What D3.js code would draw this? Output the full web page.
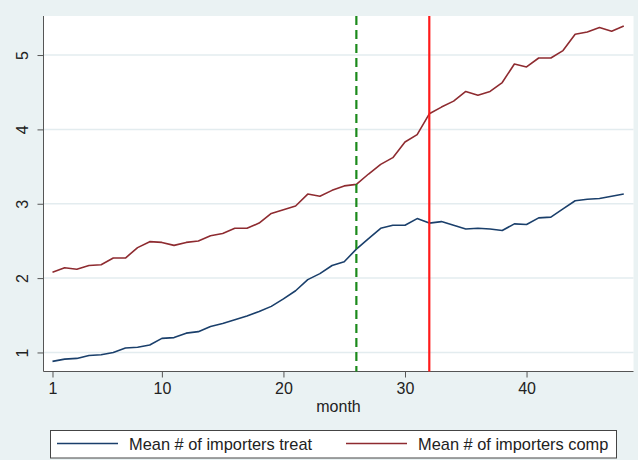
<!DOCTYPE html>
<html>
<head>
<meta charset="utf-8">
<script src="https://cdn.jsdelivr.net/npm/d3@7"></script>
<style>
  html, body { margin: 0; padding: 0; background: #eaf2f3; }
  svg { display: block; }
  text { font-family: "Liberation Sans", Arial, sans-serif; }
</style>
</head>
<body>
<svg id="chart" width="638" height="460"></svg>
<script>
const months = d3.range(1, 49);
const treatValues = [0.88, 0.91, 0.92, 0.96, 0.97, 1.00, 1.06, 1.07, 1.10, 1.19,
  1.20, 1.26, 1.28, 1.35, 1.39, 1.44, 1.49, 1.55, 1.62, 1.72,
  1.83, 1.98, 2.06, 2.17, 2.22, 2.39, 2.53, 2.67, 2.71, 2.71,
  2.80, 2.74, 2.76, 2.71, 2.66, 2.67, 2.66, 2.64, 2.73, 2.72,
  2.81, 2.82, 2.93, 3.04, 3.06, 3.07, 3.10, 3.13];
const compValues = [2.08, 2.14, 2.12, 2.17, 2.18, 2.27, 2.27, 2.41, 2.49, 2.48,
  2.44, 2.48, 2.50, 2.57, 2.60, 2.67, 2.67, 2.74, 2.87, 2.92,
  2.97, 3.13, 3.10, 3.18, 3.24, 3.26, 3.40, 3.53, 3.62, 3.83,
  3.93, 4.21, 4.30, 4.38, 4.51, 4.46, 4.51, 4.63, 4.88, 4.84,
  4.96, 4.96, 5.06, 5.28, 5.31, 5.37, 5.32, 5.39];
const xTicks = [1, 10, 20, 30, 40];
const yTicks = [1, 2, 3, 4, 5];
const vLines = [{month: 26, color: "#1b8a1b", dash: "9,5"}, {month: 32, color: "#ff1a1a", dash: null}];
const seriesNames = ["Mean # of importers treat", "Mean # of importers comp"];
const seriesColors = ["#1a3f6b", "#8e2b30"];
const xTitle = "month";

const svg = d3.select("#chart");
const plot = {left: 43.5, right: 633.5, top: 16, bottom: 371.5};

const x = d3.scaleLinear().domain([0.26, 48.8]).range([plot.left, plot.right]);
const y = d3.scaleLinear().domain([0.744, 5.525]).range([plot.bottom, plot.top]);

svg.append("rect").attr("x", 0).attr("y", 0).attr("width", 638).attr("height", 460).attr("fill", "#eaf2f3");
svg.append("rect").attr("x", plot.left).attr("y", plot.top)
  .attr("width", plot.right - plot.left).attr("height", plot.bottom - plot.top).attr("fill", "#ffffff");

// grid
svg.append("g").selectAll("line").data(yTicks).join("line")
  .attr("x1", plot.left).attr("x2", plot.right)
  .attr("y1", d => y(d)).attr("y2", d => y(d))
  .attr("stroke", "#e3ecef").attr("stroke-width", 1.5);

// axes
const yAxis = svg.append("g").attr("transform", `translate(${plot.left},0)`)
  .call(d3.axisLeft(y).tickValues(yTicks).tickSize(6).tickPadding(10).tickFormat(d3.format("d")));
yAxis.select(".domain").attr("stroke", "#555").attr("d", `M0,${plot.top}V${plot.bottom}`);
yAxis.selectAll(".tick line").attr("stroke", "#555");
yAxis.selectAll(".tick text")
  .attr("font-size", 16).attr("fill", "#222")
  .attr("text-anchor", "middle")
  .attr("x", null).attr("dy", null)
  .attr("transform", "translate(-21,0) rotate(-90)")
  .attr("dominant-baseline", "central");

const xAxis = svg.append("g").attr("transform", `translate(0,${plot.bottom})`)
  .call(d3.axisBottom(x).tickValues(xTicks).tickSize(6).tickPadding(5).tickFormat(d3.format("d")));
xAxis.select(".domain").attr("stroke", "#555").attr("d", `M${plot.left},0H${plot.right}`);
xAxis.selectAll(".tick line").attr("stroke", "#555");
xAxis.selectAll(".tick text").attr("font-size", 16).attr("fill", "#222");

svg.append("text").attr("x", (plot.left + plot.right) / 2).attr("y", 412)
  .attr("text-anchor", "middle").attr("font-size", 16).attr("fill", "#222").text(xTitle);

// series
const line = d3.line().x((d, i) => x(months[i])).y(d => y(d));
[treatValues, compValues].forEach((vals, k) => {
  svg.append("path").datum(vals).attr("d", line)
    .attr("fill", "none").attr("stroke", seriesColors[k]).attr("stroke-width", 1.6)
    .attr("stroke-linejoin", "round");
});

// vertical lines
vLines.forEach(v => {
  svg.append("line").attr("x1", x(v.month)).attr("x2", x(v.month))
    .attr("y1", plot.top).attr("y2", plot.bottom)
    .attr("stroke", v.color).attr("stroke-width", 2.2)
    .attr("stroke-dasharray", v.dash);
});

// legend
const lg = svg.append("g");
lg.append("rect").attr("x", 50.5).attr("y", 430.5).attr("width", 566).attr("height", 27.5)
  .attr("fill", "#fff").attr("stroke", "#444").attr("stroke-width", 1);
const legX = [57, 346];
seriesNames.forEach((name, k) => {
  lg.append("line").attr("x1", legX[k]).attr("x2", legX[k] + 61)
    .attr("y1", 443.5).attr("y2", 443.5).attr("stroke", seriesColors[k]).attr("stroke-width", 1.6);
  lg.append("text").attr("x", legX[k] + 72).attr("y", 450)
    .attr("font-size", 16.4).attr("fill", "#222").text(name);
});
</script>
</body>
</html>
